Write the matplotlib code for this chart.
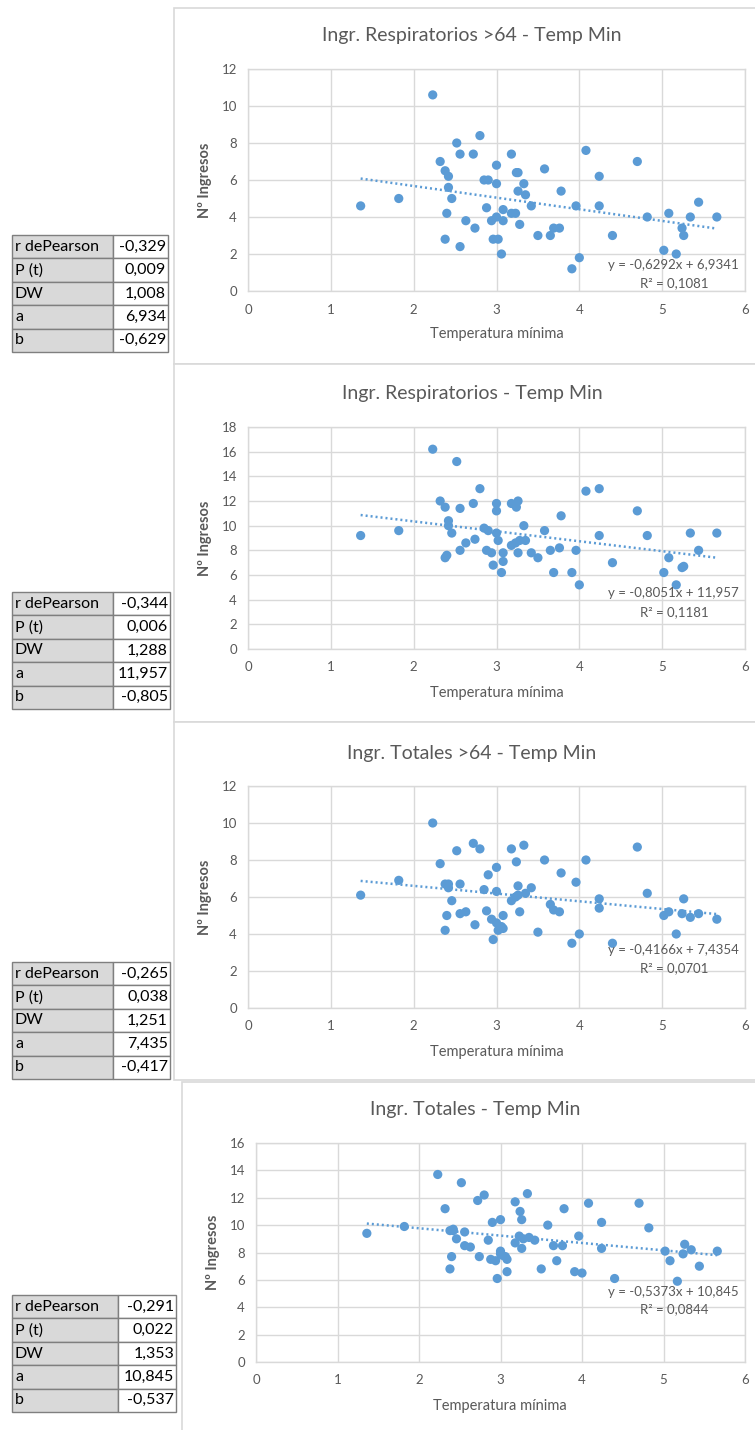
import matplotlib
matplotlib.use("Agg")
import matplotlib.pyplot as plt
from matplotlib.patches import Rectangle

plt.rcParams["font.family"] = ["Lato", "DejaVu Sans"]

# Minimum temperature (shared by all four series)
x_temp = [1.36, 1.82, 2.23, 2.32, 2.38, 2.38, 2.40, 2.42, 2.42, 2.46,
          2.52, 2.56, 2.56, 2.63, 2.72, 2.74, 2.80, 2.85, 2.88, 2.90,
          2.94, 2.96, 3.00, 3.00, 3.00, 3.02, 3.06, 3.08, 3.08, 3.18,
          3.18, 3.23, 3.24, 3.26, 3.26, 3.28, 3.33, 3.35, 3.42, 3.50,
          3.58, 3.65, 3.69, 3.76, 3.78, 3.91, 3.96, 4.00, 4.08, 4.24,
          4.24, 4.40, 4.70, 4.82, 5.02, 5.08, 5.17, 5.24, 5.26, 5.34,
          5.44, 5.66]

resp_64 = [4.6, 5.0, 10.6, 7.0, 6.5, 2.8, 4.2, 6.2, 5.6, 5.0,
           8.0, 7.4, 2.4, 3.8, 7.4, 3.4, 8.4, 6.0, 4.5, 6.0,
           3.8, 2.8, 6.8, 5.8, 4.0, 2.8, 2.0, 4.4, 3.8, 7.4,
           4.2, 4.2, 6.4, 6.4, 5.4, 3.6, 5.8, 5.2, 4.6, 3.0,
           6.6, 3.0, 3.4, 3.4, 5.4, 1.2, 4.6, 1.8, 7.6, 6.2,
           4.6, 3.0, 7.0, 4.0, 2.2, 4.2, 2.0, 3.4, 3.0, 4.0,
           4.8, 4.0]

resp_all = [9.2, 9.6, 16.2, 12.0, 11.5, 7.4, 7.6, 10.4, 10.0, 9.4,
            15.2, 11.4, 8.0, 8.6, 11.8, 8.9, 13.0, 9.8, 8.0, 9.6,
            7.8, 6.8, 11.8, 11.2, 9.4, 8.8, 6.2, 7.8, 7.1, 11.8,
            8.4, 8.6, 11.5, 12.0, 7.8, 8.8, 10.0, 8.8, 7.8, 7.4,
            9.6, 8.0, 6.2, 8.2, 10.8, 6.2, 8.0, 5.2, 12.8, 13.0,
            9.2, 7.0, 11.2, 9.2, 6.2, 7.4, 5.2, 6.6, 6.7, 9.4,
            8.0, 9.4]

tot_64 = [6.1, 6.9, 10.0, 7.8, 6.7, 4.2, 5.0, 6.7, 6.5, 5.8,
          8.5, 6.7, 5.1, 5.2, 8.9, 4.5, 8.6, 6.4, 5.25, 7.2,
          4.8, 3.7, 7.6, 6.3, 4.6, 4.2, 4.4, 5.0, 4.3, 8.6,
          5.8, 6.0, 7.9, 6.6, 6.1, 5.2, 8.8, 6.2, 6.5, 4.1,
          8.0, 5.6, 5.3, 5.2, 7.3, 3.5, 6.8, 4.0, 8.0, 5.9,
          5.4, 3.5, 8.7, 6.2, 5.0, 5.2, 4.0, 5.1, 5.9, 4.9,
          5.1, 4.8]

tot_all = [9.4, 9.9, 13.7, 11.2, 9.6, 6.8, 7.7, 9.7, 9.6, 9.0,
           13.1, 9.5, 8.5, 8.4, 11.8, 7.7, 12.2, 8.9, 7.5, 10.2,
           7.4, 6.1, 10.4, 8.1, 7.9, 7.8, 7.7, 7.5, 6.6, 11.7,
           8.7, 9.2, 11.0, 10.4, 8.3, 9.0, 12.3, 9.1, 8.9, 6.8,
           10.0, 8.5, 7.4, 8.5, 11.2, 6.6, 9.2, 6.5, 11.6, 10.2,
           8.3, 6.1, 11.6, 9.8, 8.1, 7.4, 5.9, 7.9, 8.6, 8.2,
           7.0, 8.1]

titles = ["Ingr. Respiratorios >64 - Temp Min",
          "Ingr. Respiratorios - Temp Min",
          "Ingr. Totales >64 - Temp Min",
          "Ingr. Totales - Temp Min"]
series = [resp_64, resp_all, tot_64, tot_all]
y_max = [12, 18, 12, 16]

# Excel trendline coefficients
slopes = [-0.6292, -0.8051, -0.4166, -0.5373]
intercepts = [6.9341, 11.957, 7.4354, 10.845]
r2_values = [0.1081, 0.1181, 0.0701, 0.0844]

# Side tables
stat_names = ["r dePearson", "P (t)", "DW", "a", "b"]
pearson_r = [-0.329, -0.344, -0.265, -0.291]
p_t = [0.009, 0.006, 0.038, 0.022]
durbin_watson = [1.008, 1.288, 1.251, 1.353]
coef_a = [6.934, 11.957, 7.435, 10.845]
coef_b = [-0.629, -0.805, -0.417, -0.537]

W, H = 755, 1430
BLUE = "#5B9BD5"
GREY_TXT = "#595959"
GRID = "#D9D9D9"


def fx(px):
    return px / W


def fy(py):
    return 1 - py / H


def comma(v, fmt):
    return format(v, fmt).replace(".", ",")


fig = plt.figure(figsize=(W / 100, H / 100), dpi=100)

# pixel layout of each panel: frame (left, top, bottom), plot (left, right, top, bottom),
# title y, x label y, y label x, equation y, table (left, split, right, top)
layout = [
    dict(frame=(174, 8, 364), plot=(248, 745, 69, 291), title=36, xlab=334, ylab=205,
         eq=(265, 283), table=(12, 113, 168, 235)),
    dict(frame=(174, 364, 722), plot=(248, 745, 427, 649), title=394, xlab=693, ylab=205,
         eq=(593, 612), table=(12, 113, 170, 592)),
    dict(frame=(174, 722, 1080), plot=(248, 745, 786, 1008), title=753, xlab=1052, ylab=205,
         eq=(950, 968), table=(12, 113, 170, 962)),
    dict(frame=(182, 1082, 1440), plot=(256, 745, 1143, 1362), title=1110, xlab=1406, ylab=213,
         eq=(1292, 1309), table=(12, 118, 176, 1295)),
]

for i, lay in enumerate(layout):
    fl, ft, fb = lay["frame"]
    fig.add_artist(Rectangle((fx(fl), fy(fb)), fx(W + 20 - fl), (fb - ft) / H,
                             transform=fig.transFigure, facecolor="white",
                             edgecolor=GRID, lw=1.2, zorder=0))

    pl, pr, pt, pb = lay["plot"]
    ax = fig.add_axes([fx(pl), fy(pb), (pr - pl) / W, (pb - pt) / H])
    ax.set_xlim(0, 6)
    ax.set_ylim(0, y_max[i])
    ax.set_xticks(range(0, 7))
    ax.set_yticks(range(0, y_max[i] + 1, 2))
    ax.grid(True, color=GRID, lw=1.0)
    ax.set_axisbelow(True)
    for s in ax.spines.values():
        s.set_color(GRID)
        s.set_linewidth(1.0)
    ax.tick_params(length=0, labelsize=9.5, labelcolor=GREY_TXT)
    ax.tick_params(axis="x", pad=9)
    ax.tick_params(axis="y", pad=8)

    ax.scatter(x_temp, series[i], s=44, color=BLUE, edgecolors="none", zorder=3,
               clip_on=False)

    x0, x1 = min(x_temp), max(x_temp)
    ax.plot([x0, x1], [slopes[i] * x0 + intercepts[i], slopes[i] * x1 + intercepts[i]],
            color=BLUE, lw=1.8, linestyle=(0, (0.8, 1.2)), zorder=4)

    fig.text(fx(472 if i < 3 else 475), fy(lay["title"]), titles[i], ha="center",
             va="center", fontsize=14, color=GREY_TXT)
    fig.text(fx(497 if i < 3 else 500), fy(lay["xlab"]), "Temperatura mínima",
             ha="center", va="center", fontsize=10.5, color=GREY_TXT)
    fig.text(fx(lay["ylab"]), fy((pt + pb) / 2), "Nº Ingresos", ha="center",
             va="center", rotation=90, fontsize=10.5, color=GREY_TXT, fontweight="bold")

    eq1, eq2 = lay["eq"]
    eq_txt = "y = " + comma(slopes[i], ".5g") + "x + " + comma(intercepts[i], ".5g")
    fig.text(fx(739), fy(eq1), eq_txt, ha="right", va="center", fontsize=9.5,
             color=GREY_TXT)
    fig.text(fx(674), fy(eq2), "R² = " + comma(r2_values[i], ".5g"), ha="center",
             va="center", fontsize=9.5, color=GREY_TXT)

    # statistics table
    tl, ts, tr, tt = lay["table"]
    row_h = 23.4
    vals = [pearson_r[i], p_t[i], durbin_watson[i], coef_a[i], coef_b[i]]
    for r, (name, v) in enumerate(zip(stat_names, vals)):
        y_top = tt + r * row_h
        fig.add_artist(Rectangle((fx(tl), fy(y_top + row_h)), (ts - tl) / W, row_h / H,
                                 transform=fig.transFigure, facecolor="#D9D9D9",
                                 edgecolor="#7F7F7F", lw=1.0, zorder=2))
        fig.add_artist(Rectangle((fx(ts), fy(y_top + row_h)), (tr - ts) / W, row_h / H,
                                 transform=fig.transFigure, facecolor="white",
                                 edgecolor="#7F7F7F", lw=1.0, zorder=2))
        fig.text(fx(tl + 3), fy(y_top + row_h / 2), name, ha="left", va="center",
                 fontsize=11.5, color="black", zorder=3)
        fig.text(fx(tr - 2), fy(y_top + row_h / 2), comma(v, ".3f"), ha="right",
                 va="center", fontsize=11.5, color="black", zorder=3)

fig.savefig("out.png", dpi=100)
